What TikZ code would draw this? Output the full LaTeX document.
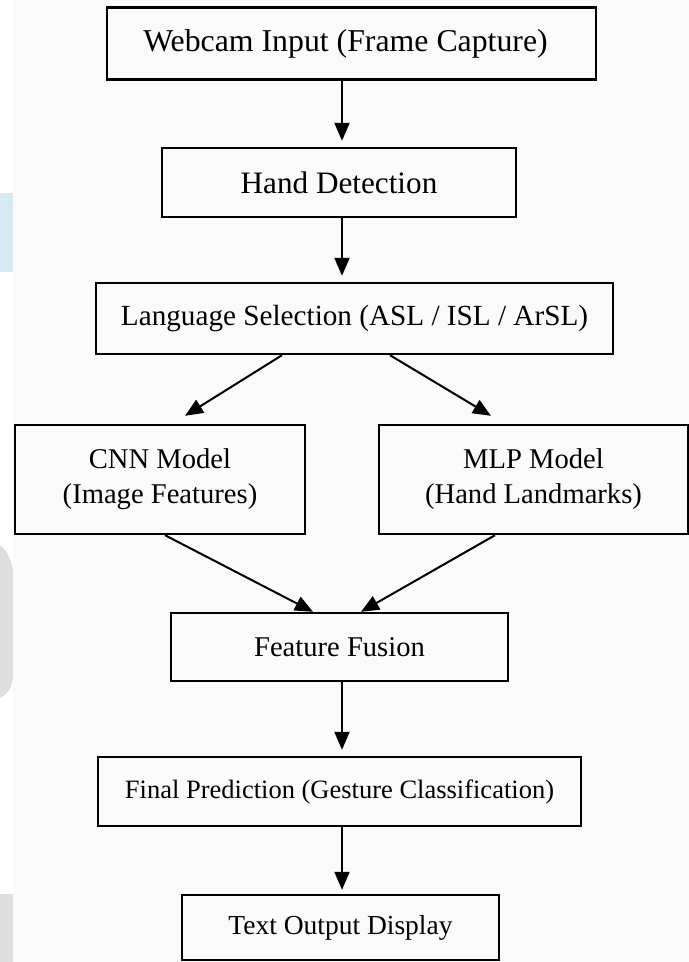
\documentclass[tikz,border=0pt]{standalone}
\usepackage{fontspec}
\setmainfont{Liberation Serif}
\usetikzlibrary{arrows.meta}
\definecolor{edgeblue}{RGB}{214,234,243}
\definecolor{edgegray}{RGB}{222,222,222}
\begin{document}
\begin{tikzpicture}[x=0.5pt,y=-0.5pt,
  box/.style={draw=black,line width=1.2pt,inner sep=0pt,align=center},
  arr/.style={line width=1pt,-{Triangle[length=9pt,width=7.5pt]}},
  fs/.style={font={\fontsize{#1}{17.5}\selectfont}}]
\useasboundingbox (0,0) rectangle (689,962);
\fill[white] (0,0) rectangle (689,962);
\fill[black!2] (13,0) rectangle (689,962);
% faint edge marks
\fill[edgeblue] (0,193) rectangle (13,272);
\fill[edgegray] (0,545) .. controls (8,552) and (13,562) .. (13,575) -- (13,675) .. controls (13,686) and (8,694) .. (0,698) -- cycle;
\fill[edgegray] (0,894) rectangle (13,962);
\coordinate (ax) at (342,0);
\node[box,minimum width=244.5pt,minimum height=36pt,fs=15.9] (n1) at (351.5,43.5) {\hspace{-6pt}Webcam Input (Frame Capture)};
\node[box,minimum width=177pt,minimum height=34.5pt,fs=15.6] (n2) at (339,182.5) {Hand Detection};
\node[box,minimum width=258.5pt,minimum height=35.5pt,fs=14.6] (n3) at (354.5,318.5) {Language Selection (ASL / ISL / ArSL)};
\node[box,minimum width=145pt,minimum height=54.5pt,fs=14.3] (n4) at (160,479.5) {CNN Model\\(Image Features)};
\node[box,minimum width=154.5pt,minimum height=54.5pt,fs=14.3] (n5) at (533.5,479.5) {MLP Model\\(Hand Landmarks)};
\node[box,minimum width=168.5pt,minimum height=34pt,fs=14.3] (n6) at (339.5,647) {Feature Fusion};
\node[box,minimum width=241.5pt,minimum height=34.5pt,fs=13.25] (n7) at (339.5,791.5) {Final Prediction (Gesture Classification)};
\node[box,minimum width=158.5pt,minimum height=32.5pt,fs=13.75] (n8) at (340.5,927.5) {Text Output Display};
\draw[arr,shorten >=3pt] (n1.south -| ax) -- (n2.north -| ax);
\draw[arr,shorten >=3pt] (n2.south -| ax) -- (n3.north -| ax);
\draw[arr] ([xshift=-36.25pt]n3.south) -- ([xshift=12.5pt,yshift=4pt]n4.north);
\draw[arr] ([xshift=17.75pt]n3.south) -- ([xshift=-21.25pt,yshift=4pt]n5.north);
\draw[arr] ([xshift=2.5pt]n4.south) -- ([xshift=-13.25pt]n6.north);
\draw[arr] ([xshift=-19.25pt]n5.south) -- ([xshift=10.75pt]n6.north);
\draw[arr,shorten >=3pt] (n6.south -| ax) -- (n7.north -| ax);
\draw[arr,shorten >=2pt] (n7.south -| ax) -- (n8.north -| ax);
\end{tikzpicture}
\end{document}
